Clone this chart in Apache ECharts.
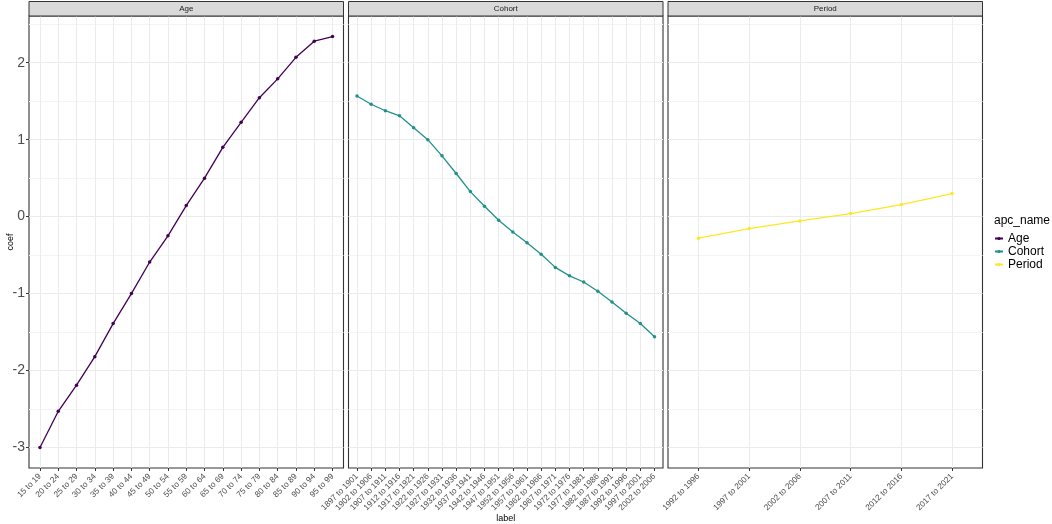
<!DOCTYPE html>
<html>
<head>
<meta charset="utf-8">
<script src="https://cdn.jsdelivr.net/npm/echarts@6/dist/echarts.min.js"></script>
<style>html,body{margin:0;padding:0;background:#fff;}#chart{width:1052px;height:524px;}</style>
</head>
<body>
<div id="chart"></div>
<script>
// ---- data ----
const panelNames = ['Age', 'Cohort', 'Period'];
const ageLabels = ['15 to 19','20 to 24','25 to 29','30 to 34','35 to 39','40 to 44','45 to 49','50 to 54','55 to 59','60 to 64','65 to 69','70 to 74','75 to 79','80 to 84','85 to 89','90 to 94','95 to 99'];
const ageCoef = [-3.0, -2.53, -2.19, -1.82, -1.39, -1.0, -0.59, -0.25, 0.143, 0.50, 0.90, 1.225, 1.545, 1.79, 2.07, 2.28, 2.34];
const cohortLabels = ['1897 to 1901','1902 to 1906','1907 to 1911','1912 to 1916','1917 to 1921','1922 to 1926','1927 to 1931','1932 to 1936','1937 to 1941','1942 to 1946','1947 to 1951','1952 to 1956','1957 to 1961','1962 to 1966','1967 to 1971','1972 to 1976','1977 to 1981','1982 to 1986','1987 to 1991','1992 to 1996','1997 to 2001','2002 to 2006'];
const cohortCoef = [1.567, 1.46, 1.376, 1.31, 1.156, 1.00, 0.79, 0.56, 0.325, 0.134, -0.048, -0.20, -0.34, -0.49, -0.66, -0.77, -0.85, -0.97, -1.11, -1.256, -1.39, -1.56];
const periodLabels = ['1992 to 1996','1997 to 2001','2002 to 2006','2007 to 2011','2012 to 2016','2017 to 2021'];
const periodCoef = [-0.28, -0.156, -0.056, 0.039, 0.156, 0.30];
const yTicks = [-3, -2, -1, 0, 1, 2];
const colors = ['#440154', '#21908C', '#FDE725'];

// ---- layout ----
const FONT = 'Liberation Sans, Arial, sans-serif';
const panelLeft = [29, 348.5, 668];
const panelW = 314.5;
const plotTop = 16, plotBottom = 468;
const H = 524;

const labelsByPanel = [ageLabels, cohortLabels, periodLabels];
const coefByPanel = [ageCoef, cohortCoef, periodCoef];

const allVals = ageCoef.concat(cohortCoef, periodCoef);
const vMin = Math.min(...allVals), vMax = Math.max(...allVals);
const pad = (vMax - vMin) * 0.05;
const yMin = vMin - pad, yMax = vMax + pad;

const chart = echarts.init(document.getElementById('chart'), null, {renderer: 'canvas'});

const grids = [], xAxes = [], yAxes = [], series = [], graphics = [];
for (let p = 0; p < 3; p++) {
  const labels = labelsByPanel[p];
  const n = labels.length;
  const idx = labels.map((_, i) => i);
  grids.push({
    left: panelLeft[p], width: panelW, top: plotTop, bottom: H - plotBottom,
    show: true, backgroundColor: '#fff', borderColor: '#333', borderWidth: 1.1,
    containLabel: false, outerBoundsMode: 'none'
  });
  xAxes.push({
    type: 'value', gridIndex: p, min: -0.6, max: n - 1 + 0.6, position: 'bottom',
    axisLine: {show: false, onZero: false},
    axisTick: {show: true, customValues: idx, length: 3, lineStyle: {color: '#333', width: 1}},
    axisLabel: {customValues: idx, rotate: 45, margin: 7, fontSize: 8.3, color: '#4d4d4d', fontFamily: FONT,
      formatter: v => labels[Math.round(v)]},
    splitLine: {show: true, lineStyle: {color: '#ebebeb', width: 1}},
    name: p === 1 ? 'label' : '', nameLocation: 'middle', nameGap: 46, nameMoveOverlap: false,
    nameTextStyle: {fontSize: 9, color: '#000', fontFamily: FONT}
  });
  yAxes.push({
    type: 'value', gridIndex: p, min: yMin, max: yMax, position: 'left',
    axisLine: {show: false, onZero: false},
    axisTick: {show: p === 0, customValues: yTicks, length: 3, lineStyle: {color: '#333', width: 1}},
    axisLabel: {show: p === 0, customValues: yTicks, fontSize: 14, color: '#4d4d4d', fontFamily: FONT, margin: 4},
    splitLine: {show: true, lineStyle: {color: '#ebebeb', width: 1}},
    minorTick: {show: false, splitNumber: 2},
    minorSplitLine: {show: true, lineStyle: {color: '#f4f4f4', width: 1}},
    name: p === 0 ? 'coef' : '', nameLocation: 'middle', nameGap: 14, nameRotate: 90, nameMoveOverlap: false,
    nameTextStyle: {fontSize: 9, color: '#000', fontFamily: FONT}
  });
  series.push({
    name: panelNames[p], type: 'line', xAxisIndex: p, yAxisIndex: p,
    data: coefByPanel[p].map((v, i) => [i, v]),
    symbol: 'circle', symbolSize: 3.5, showSymbol: true,
    lineStyle: {color: colors[p], width: 1.3},
    itemStyle: {color: colors[p]},
    emphasis: {disabled: true}, animation: false
  });
  graphics.push({
    type: 'rect', shape: {x: panelLeft[p], y: 1.5, width: panelW, height: 14.5},
    style: {fill: '#d9d9d9', stroke: '#333', lineWidth: 1}, z: 10
  });
  graphics.push({
    type: 'text', x: panelLeft[p] + panelW / 2, y: 9,
    style: {text: panelNames[p], fontSize: 8, fill: '#1a1a1a', fontFamily: FONT, align: 'center', verticalAlign: 'middle'}, z: 11
  });
}

chart.setOption({
  animation: false,
  color: colors,
  title: {text: 'apc_name', left: 994, top: 215, padding: 0,
    textStyle: {fontSize: 12, fontWeight: 'normal', color: '#000', fontFamily: FONT}},
  legend: {
    data: panelNames, orient: 'vertical', left: 994, top: 232, padding: 0,
    itemWidth: 8, itemHeight: 4, itemGap: 0,
    textStyle: {fontSize: 12, lineHeight: 13, color: '#000', fontFamily: FONT}
  },
  grid: grids, xAxis: xAxes, yAxis: yAxes, series: series, graphic: graphics
});
</script>
</body>
</html>
